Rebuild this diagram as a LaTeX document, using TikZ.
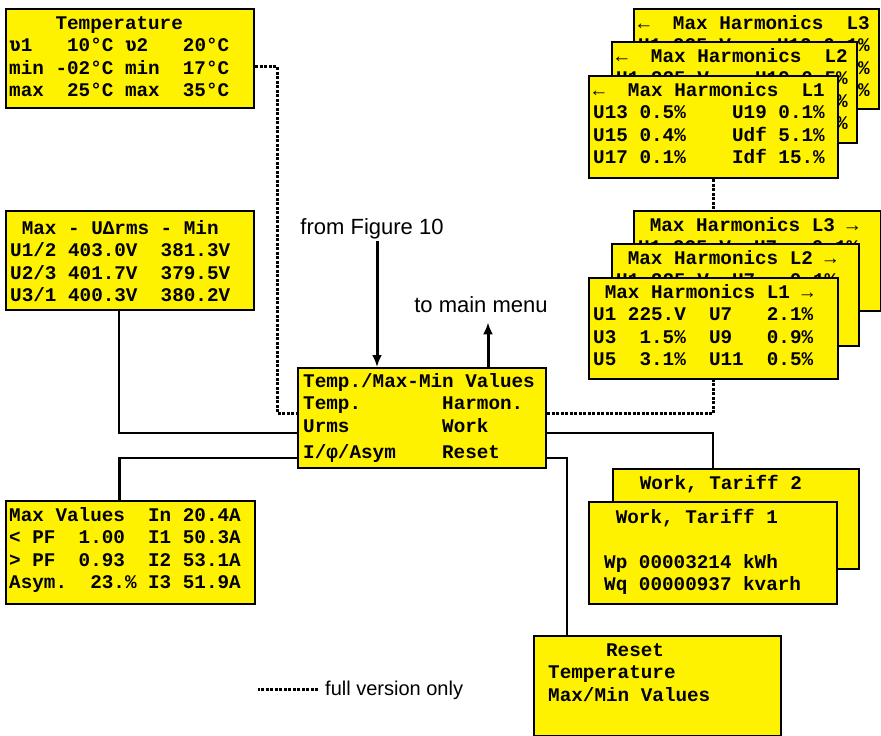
\documentclass[tikz,border=0pt]{standalone}
\usepackage{fontspec}
\setmainfont{Liberation Sans}
\newfontfamily\lcdfont{Liberation Mono}
\newfontfamily\ipafont{DejaVu Sans Mono}
\usetikzlibrary{arrows.meta}
\newcommand{\vth}{{\ipafont ʋ}}

\begin{document}
\begin{tikzpicture}[x=1pt, y=-1pt,
		>={Latex[length=12pt,width=10pt]},   % Pfeilspitzen
		lcd/.style={draw, line width=2pt, fill=yellow, inner sep=0pt, anchor=north west},
		% Text sitzt mit der Grundlinie der letzten Zeile
		screen/.style={anchor=base west, align=left, inner sep=0pt,
			font=\lcdfont\bfseries\fontsize{19.3}{22.5}\selectfont\frenchspacing},
		link/.style={line width=2.5pt},
		fullonly/.style={line width=3pt, dash pattern=on 3pt off 1.5pt},
		flow/.style={->, line width=3pt},
		caption/.style={inner sep=2pt, font=\fontsize{22}{26}\selectfont}]
		\useasboundingbox (0,0) rectangle (881,736);
		% Temperatur
		\node[lcd, minimum width=248pt, minimum height=99pt] (temp) at (5,8) {};
		\node[screen] (tempT) at ([shift={(4,88.5)}]temp.north west)
			{~~~~Temperature\\\vth1~~~10°C \vth2~~~20°C\\min -02°C min~~17°C\\max~~25°C max~~35°C};
		% Spannungen
		\node[lcd, minimum width=248pt, minimum height=99pt] (maxu) at (5,210) {};
		\node[screen] (maxuT) at ([shift={(5,91.5)}]maxu.north west)
			{~Max - UΔrms - Min\\U1/2 403.0V~~381.3V\\U2/3 401.7V~~379.5V\\U3/1 400.3V~~380.2V};
		% Stroeme, PF, Asymmetrie
		\node[lcd, minimum width=249pt, minimum height=103pt] (maxv) at (5,500) {};
		\node[screen] (maxvT) at ([shift={(4,88.5)}]maxv.north west)
			{Max Values~~In 20.4A\\< PF~~1.00~~I1 50.3A\\> PF~~0.93~~I2 53.1A\\Asym.~~23.\% I3 51.9A};
		% Menue
		\node[lcd, minimum width=248pt, minimum height=100pt] (menu) at (297,367) {};
		\node[screen] (menuT) at ([shift={(6,91.5)}]menu.north west)
			{Temp./Max-Min Values\\Temp.~~~~~~~Harmon.\\Urms~~~~~~~~Work\\[4pt]I/φ/Asym~~~~Reset};
		% Oberschwingungen U13..Idf
		\node[lcd, minimum width=245pt, minimum height=100pt] (hB3) at (633,8) {};
		\node[screen] (hB3T) at ([shift={(5,88.5)}]hB3.north west)
			{←~~Max Harmonics~~L3\\U1 225.V~~~~U19 0.1\%\\U15 0.3\%~~~~Udf 4.9\%\\U17 0.1\%~~~~Idf 14.\%};
		\node[lcd, minimum width=245pt, minimum height=101pt] (hB2) at (611,41) {};
		\node[screen] (hB2T) at ([shift={(5,88.5)}]hB2.north west)
			{←~~Max Harmonics~~L2\\U1 225.V~~~~U19 0.5\%\\U15 0.2\%~~~~Udf 5.0\%\\U17 0.1\%~~~~Idf 13.\%};
		\node[lcd, minimum width=249pt, minimum height=102pt] (hB1) at (588,75) {};
		\node[screen] (hB1T) at ([shift={(5,88.5)}]hB1.north west)
			{←~~Max Harmonics~~L1\\U13 0.5\%~~~~U19 0.1\%\\U15 0.4\%~~~~Udf 5.1\%\\U17 0.1\%~~~~Idf 15.\%};
		% Oberschwingungen U1..U11
		\node[lcd, minimum width=247pt, minimum height=100pt] (hA3) at (633,210) {};
		\node[screen] (hA3T) at ([shift={(5,88.5)}]hA3.north west)
			{~Max Harmonics L3 →\\U1 225.V~~U7~~~0.1\%\\U3~~1.2\%~~U9~~~0.8\%\\U5~~2.9\%~~U11~~0.4\%};
		\node[lcd, minimum width=247pt, minimum height=102pt] (hA2) at (611,243) {};
		\node[screen] (hA2T) at ([shift={(5,88.5)}]hA2.north west)
			{~Max Harmonics L2 →\\U1 225.V~~U7~~~0.1\%\\U3~~1.4\%~~U9~~~0.7\%\\U5~~3.0\%~~U11~~0.4\%};
		\node[lcd, minimum width=249pt, minimum height=101pt] (hA1) at (588,277) {};
		\node[screen] (hA1T) at ([shift={(5,88.5)}]hA1.north west)
			{~Max Harmonics L1 →\\U1 225.V~~U7~~~2.1\%\\U3~~1.5\%~~U9~~~0.9\%\\U5~~3.1\%~~U11~~0.5\%};
		% Arbeit
		\node[lcd, minimum width=246pt, minimum height=100pt] (work2) at (612,468) {};
		\node[screen] (work2T) at ([shift={(16,21)}]work2.north west) {~Work, Tariff 2};
		\node[lcd, minimum width=248pt, minimum height=102pt] (work1) at (588,501) {};
		\node[screen] (work1T) at ([shift={(16,89.5)}]work1.north west)
			{~Work, Tariff 1\\[22.5pt]Wp 00003214 kWh\\Wq 00000937 kvarh};
		% Reset
		\node[lcd, minimum width=247pt, minimum height=100pt] (reset) at (533,635) {};
		\node[screen] (resetT) at ([shift={(15,66)}]reset.north west)
			{~~~~~Reset\\Temperature\\Max/Min Values};
		% Beschriftungen
		\node[caption, anchor=base] (fig10) at (372,234) {from Figure 10};
		\node[caption, anchor=base] (tomain) at (481,312) {to main menu};
		\node[caption, anchor=base west, font=\fontsize{20}{24}\selectfont] (legend) at (323,695) {full version only};
		\coordinate (inArr) at ([xshift=5pt]fig10.south);
		\coordinate (outArr) at ([xshift=7pt,yshift=-8pt]tomain.south);
		% Pfeile
		\draw[flow] (inArr) -- (inArr |- menu.north);
		\draw[flow] (outArr |- menu.north) -- (outArr);
		% Verbindungen
		\draw[link] ([yshift=-15pt]menu.west) -| ([xshift=-11pt]maxu.south);
		\draw[link] ([yshift=-40pt]menu.west) -| ([xshift=-11pt]maxv.north);
		\draw[link] ([yshift=-15pt]menu.east) -| (work1.north |- work2.north);
		\draw[link] ([yshift=-40pt]menu.east) -| ([xshift=34pt]reset.north west);
		% nur Vollversion
		\draw[fullonly] ([yshift=-8pt]temp.east) -- ++(22,0) |- ([yshift=5pt]menu.west);
		\draw[fullonly] ([yshift=5pt]menu.east) -| (hA1.south);
		\draw[fullonly] (hB1.south) -- (hB1.south |- hA3.north);
		\draw[fullonly] ([xshift=-5pt]legend.west) -- ++(-60,0);
	\end{tikzpicture}
\end{document}
